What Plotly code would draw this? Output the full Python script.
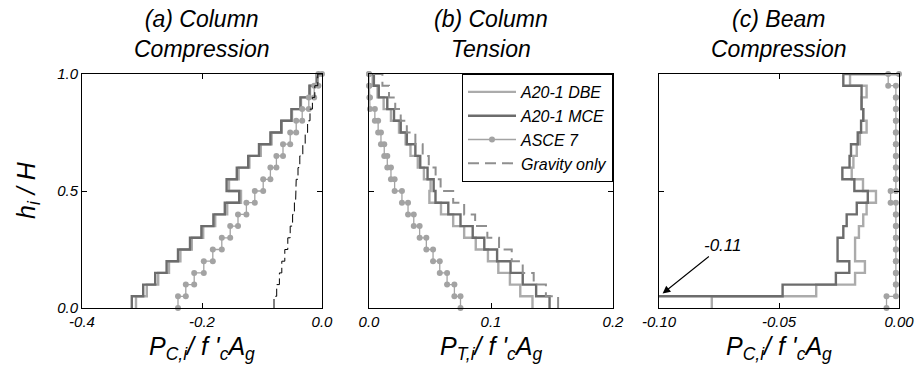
import plotly.graph_objects as go

# Normalised floor levels h_i/H (20 storeys)
levels = [0.00, 0.05, 0.10, 0.15, 0.20, 0.25, 0.30, 0.35, 0.40, 0.45, 0.50,
          0.55, 0.60, 0.65, 0.70, 0.75, 0.80, 0.85, 0.90, 0.95, 1.00]

# (a) Column compression, P_C,i / f'c Ag, storey 1 -> 20
col_comp_dbe = [-0.310, -0.292, -0.273, -0.255, -0.236, -0.217, -0.198, -0.178, -0.158, -0.135,
                -0.155, -0.139, -0.121, -0.102, -0.084, -0.067, -0.050, -0.035, -0.020, -0.008]
col_comp_mce = [-0.317, -0.298, -0.278, -0.259, -0.240, -0.220, -0.201, -0.181, -0.162, -0.138,
                -0.159, -0.142, -0.123, -0.105, -0.086, -0.068, -0.051, -0.036, -0.021, -0.009]
col_comp_asce = [-0.240, -0.227, -0.213, -0.197, -0.182, -0.167, -0.153, -0.140, -0.126, -0.112,
                 -0.098, -0.086, -0.076, -0.065, -0.053, -0.043, -0.033, -0.022, -0.013, -0.006]
col_comp_grav = [-0.080, -0.0755, -0.071, -0.067, -0.062, -0.057, -0.053, -0.049, -0.046, -0.044,
                 -0.043, -0.040, -0.037, -0.032, -0.028, -0.024, -0.020, -0.016, -0.012, -0.007]

# (b) Column tension, P_T,i / f'c Ag
col_ten_dbe = [0.134, 0.124, 0.1155, 0.106, 0.0975, 0.0875, 0.078, 0.069, 0.059, 0.0495,
               0.0505, 0.045, 0.040, 0.034, 0.030, 0.0246, 0.018, 0.012, 0.007, 0.003]
col_ten_mce = [0.148, 0.137, 0.126, 0.116, 0.105, 0.0945, 0.085, 0.075, 0.065, 0.0545,
               0.053, 0.048, 0.042, 0.038, 0.031, 0.026, 0.0205, 0.015, 0.008, 0.004]
col_ten_asce = [0.075, 0.070, 0.064, 0.058, 0.0525, 0.047, 0.0415, 0.0367, 0.032, 0.027,
                0.021, 0.018, 0.015, 0.0125, 0.0098, 0.0075, 0.0048, 0.0008, 0.0003, 0.0]
col_ten_grav = [0.155, 0.145, 0.135, 0.126, 0.117, 0.1066, 0.097, 0.087, 0.078, 0.069,
                0.0587, 0.0546, 0.049, 0.044, 0.038, 0.031, 0.026, 0.0215, 0.0164, 0.011]

# (c) Beam compression, P_C,i / f'c Ag
beam_comp_dbe = [-0.078, -0.0345, -0.0183, -0.0142, -0.0183, -0.0183, -0.0167, -0.0149, -0.0135, -0.0096,
                 -0.0150, -0.0197, -0.0190, -0.0176, -0.0163, -0.0135, -0.0149, -0.0156, -0.0135, -0.0204]
beam_comp_mce = [-0.110, -0.0485, -0.0263, -0.0207, -0.0256, -0.0256, -0.0232, -0.0218, -0.0176, -0.0130,
                 -0.0186, -0.0236, -0.0206, -0.0200, -0.0172, -0.0158, -0.0149, -0.0156, -0.0156, -0.0232]
beam_comp_asce = [-0.0052, -0.0013, -0.0013, -0.0013, -0.0013, -0.0013, -0.0013, -0.0013, -0.0013, -0.0035,
                  -0.0013, -0.0013, -0.0013, -0.0013, -0.0013, -0.0013, -0.0013, -0.0013, -0.0013, -0.0045]

series_names = ["A20-1 DBE", "A20-1 MCE", "ASCE 7", "Gravity only"]

# Axis ticks
ticks_a = [-0.4, -0.2, 0.0]
ticks_b = [0.0, 0.1, 0.2]
ticks_c = [-0.10, -0.05, 0.0]
ticks_h = [0.0, 0.5, 1.0]

FONT = "Liberation Sans, Arial, sans-serif"
C_DBE = "#ababab"
C_MCE = "#6c6c6c"
C_ASCE = "#a3a3a3"
C_GRAV = "#8f8f8f"


def storey_steps(vals):
    """Staircase path: each storey value held over its height, closing at the roof."""
    xs, ys = [], []
    for i, v in enumerate(vals):
        xs += [v, v]
        ys += [levels[i], levels[i + 1]]
    xs.append(0.0)
    ys.append(levels[-1])
    return xs, ys


def labels(vals, fmt):
    # plain hyphen-minus for negative tick values
    return [format(v, fmt).replace("\u2212", "-") for v in vals]


fig = go.Figure()


def add_panel(xref, yref, dbe, mce, asce, grav, grav_style, legend):
    x, y = storey_steps(dbe)
    fig.add_trace(go.Scatter(x=x, y=y, mode="lines", name=series_names[0],
                             line=dict(color=C_DBE, width=2.4), xaxis=xref, yaxis=yref,
                             showlegend=legend, legendgroup="dbe"))
    x, y = storey_steps(mce)
    fig.add_trace(go.Scatter(x=x, y=y, mode="lines", name=series_names[1],
                             line=dict(color=C_MCE, width=2.4), xaxis=xref, yaxis=yref,
                             showlegend=legend, legendgroup="mce"))
    x, y = storey_steps(asce)
    fig.add_trace(go.Scatter(x=x, y=y, mode="lines+markers", name=series_names[2],
                             line=dict(color=C_ASCE, width=1.3),
                             marker=dict(color=C_ASCE, size=6),
                             cliponaxis=False, xaxis=xref, yaxis=yref,
                             showlegend=legend, legendgroup="asce"))
    if grav is not None:
        x, y = storey_steps(grav)
        fig.add_trace(go.Scatter(x=x, y=y, mode="lines", name=series_names[3],
                                 line=grav_style, xaxis=xref, yaxis=yref,
                                 showlegend=legend, legendgroup="grav"))


add_panel("x", "y", col_comp_dbe, col_comp_mce, col_comp_asce, col_comp_grav,
          dict(color="black", width=1, dash="9px,4px"), False)
add_panel("x2", "y2", col_ten_dbe, col_ten_mce, col_ten_asce, col_ten_grav,
          dict(color=C_GRAV, width=2, dash="11px,6px"), True)
add_panel("x3", "y3", beam_comp_dbe, beam_comp_mce, beam_comp_asce, None, None, False)

W, Hpx = 918, 376
tickfont = dict(family=FONT, size=15, color="black", style="italic")
axis_common = dict(showline=True, linecolor="black", linewidth=1, mirror="ticks",
                   ticks="inside", ticklen=5, tickcolor="black", tickwidth=1,
                   showgrid=False, zeroline=False, tickfont=tickfont, automargin=False)

ydom = [1 - 308 / Hpx, 1 - 74 / Hpx]
fig.update_layout(
    width=W, height=Hpx,
    margin=dict(l=0, r=0, t=0, b=0, pad=0, autoexpand=False),
    paper_bgcolor="white", plot_bgcolor="white",
    font=dict(family=FONT, color="black"),
    xaxis=dict(domain=[82 / W, 322 / W], range=[-0.4, 0.0], tickvals=ticks_a,
               ticktext=labels(ticks_a, ".1f"), anchor="y", **axis_common),
    xaxis2=dict(domain=[369 / W, 613 / W], range=[0.0, 0.2], tickvals=ticks_b,
                ticktext=labels(ticks_b, ".1f"), anchor="y2", **axis_common),
    xaxis3=dict(domain=[659 / W, 899 / W], range=[-0.1, 0.0], tickvals=ticks_c,
                ticktext=labels(ticks_c, ".2f"), anchor="y3", **axis_common),
    yaxis=dict(domain=ydom, range=[0, 1], tickvals=ticks_h, ticktext=labels(ticks_h, ".1f"),
               anchor="x", **axis_common),
    yaxis2=dict(domain=ydom, range=[0, 1], tickvals=ticks_h, showticklabels=False,
                anchor="x2", **axis_common),
    yaxis3=dict(domain=ydom, range=[0, 1], tickvals=ticks_h, showticklabels=False,
                anchor="x3", **axis_common),
    legend=dict(x=613 / W, xanchor="right", y=ydom[1], yanchor="top",
                bordercolor="black", borderwidth=1, bgcolor="white",
                font=dict(family=FONT, size=16, color="black", style="italic"),
                itemwidth=48, tracegroupgap=0),
)

title_font = dict(family=FONT, size=23, color="black", style="italic")
panel_titles = [("(a) Column<br>Compression", 202), ("(b) Column<br>Tension", 491),
                ("(c) Beam<br>Compression", 779)]
for txt, cx in panel_titles:
    fig.add_annotation(text=txt, x=cx / W, y=1 - 34 / Hpx, xref="paper", yref="paper",
                       showarrow=False, font=title_font, xanchor="center", yanchor="middle")

label_font = dict(family=FONT, size=25, color="black", style="italic")
xlabels = [("P<sub>C,i</sub>/ f '<sub>c</sub>A<sub>g</sub>", 202),
           ("P<sub>T,i</sub>/ f '<sub>c</sub>A<sub>g</sub>", 491),
           ("P<sub>C,i</sub>/ f '<sub>c</sub>A<sub>g</sub>", 779)]
for txt, cx in xlabels:
    fig.add_annotation(text=txt, x=cx / W, y=1 - 348 / Hpx, xref="paper", yref="paper",
                       showarrow=False, font=label_font, xanchor="center", yanchor="middle")

fig.add_annotation(text="h<sub>i</sub> / H", x=28 / W, y=1 - 190 / Hpx, xref="paper",
                   yref="paper", showarrow=False, textangle=-90, font=label_font,
                   xanchor="center", yanchor="middle")

# Storey-1 beam demand under MCE falls off the axis; flag its value
fig.add_annotation(text="-0.11", x=-0.0985, y=0.062, xref="x3", yref="y3",
                   showarrow=True, arrowhead=2, arrowsize=1.4, arrowwidth=1.1,
                   arrowcolor="black", ax=60, ay=-48,
                   font=dict(family=FONT, size=17, color="black", style="italic"))

fig.write_html("out.html")
